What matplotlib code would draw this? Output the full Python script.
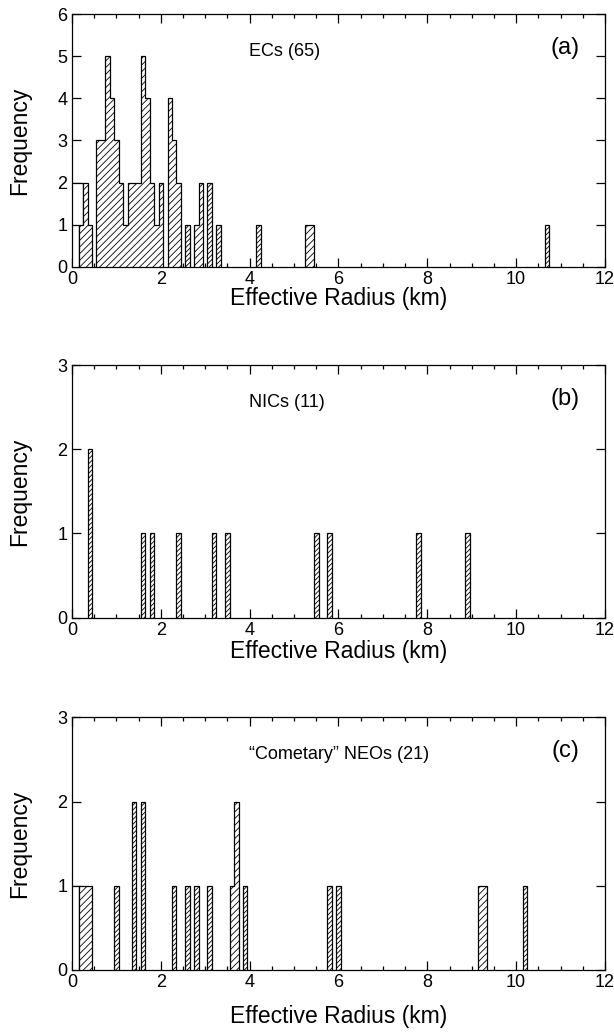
#!/usr/bin/env python3
"""Size distributions of ECs, NICs and "cometary" NEOs, drawn as 0.1 km histograms."""

import matplotlib

matplotlib.use("Agg")

import matplotlib.pyplot as plt
import numpy as np

plt.rcParams["font.family"] = ["Liberation Sans", "DejaVu Sans"]
plt.rcParams["hatch.linewidth"] = 0.6

BIN = 0.1

# bin centres (km) and counts
ec_radius = [0.2, 0.3, 0.4, 0.6, 0.7, 0.8, 0.9, 1.0, 1.1, 1.2, 1.3, 1.4, 1.5,
             1.6, 1.7, 1.8, 1.9, 2.0, 2.2, 2.3, 2.4, 2.6, 2.8, 2.9, 3.1, 3.3,
             4.2, 5.3, 5.4, 10.7]
ec_count = [1, 2, 1, 3, 3, 5, 4, 3, 2, 1, 2, 2, 2,
            5, 4, 2, 1, 2, 4, 3, 2, 1, 1, 2, 2, 1,
            1, 1, 1, 1]

nic_radius = [0.4, 1.6, 1.8, 2.4, 3.2, 3.5, 5.5, 5.8, 7.8, 8.9]
nic_count = [2, 1, 1, 1, 1, 1, 1, 1, 1, 1]

neo_radius = [0.2, 0.3, 0.4, 1.0, 1.4, 1.6, 2.3, 2.6, 2.8, 3.1, 3.6, 3.7,
              3.9, 5.8, 6.0, 9.2, 9.3, 10.2]
neo_count = [1, 1, 1, 1, 2, 2, 1, 1, 1, 1, 1, 2,
             1, 1, 1, 1, 1, 1]

# empty outline boxes near the origin (not part of the counts)
ec_open_radius = [0.0, 0.1, 0.2]
ec_open_count = [2, 2, 2]
ec_open_low_radius = [0.0, 0.1]
ec_open_low_count = [1, 1]
neo_open_radius = [0.0, 0.1]
neo_open_count = [1, 1]

panels = [
    ("ECs (65)", "(a)", ec_radius, ec_count, 6,
     [(ec_open_radius, ec_open_count), (ec_open_low_radius, ec_open_low_count)]),
    ("NICs (11)", "(b)", nic_radius, nic_count, 3, []),
    ("\u201cCometary\u201d NEOs (21)", "(c)", neo_radius, neo_count, 3,
     [(neo_open_radius, neo_open_count)]),
]


def runs(centres, counts):
    """Group occupied 0.1 km bins into contiguous runs."""
    idx = np.rint(np.asarray(centres) / BIN).astype(int)
    order = np.argsort(idx)
    idx = idx[order]
    vals = np.asarray(counts)[order]
    groups = []
    start = 0
    for k in range(1, len(idx) + 1):
        if k == len(idx) or idx[k] != idx[k - 1] + 1:
            groups.append((idx[start:k], vals[start:k]))
            start = k
    return groups


def draw_hist(ax, centres, counts):
    for idx, vals in runs(centres, counts):
        edges = np.append(idx - 0.5, idx[-1] + 0.5) * BIN
        hatch = "///////" if len(idx) == 1 else "/////"
        ax.stairs(vals, edges, baseline=0, fill=True, facecolor="white",
                  edgecolor="black", hatch=hatch, linewidth=0.9, zorder=3)


def draw_open(ax, centres, counts):
    idx = np.rint(np.asarray(centres) / BIN).astype(int)
    edges = np.append(idx - 0.5, idx[-1] + 0.5) * BIN
    ax.stairs(counts, edges, baseline=0, fill=True, facecolor="white",
              edgecolor="black", linewidth=0.9, zorder=2)


fig = plt.figure(figsize=(6.14, 10.34), dpi=100)
bottoms = [0.742, 0.4026, 0.0619]
xlabel_pads = [-1, 1, 10]

for (label, tag, radius, count, ymax, opens), bottom, lpad in zip(
        panels, bottoms, xlabel_pads):
    ax = fig.add_axes([0.1173, bottom, 0.868, 0.2444])
    for o_r, o_c in opens:
        draw_open(ax, o_r, o_c)
    draw_hist(ax, radius, count)

    ax.set_xlim(0, 12)
    ax.set_ylim(0, ymax)
    ax.set_xticks(np.arange(0, 13, 2))
    ax.set_xticks(np.arange(0, 12.01, 0.5), minor=True)
    ax.set_yticks(np.arange(0, ymax + 1, 1))
    ax.tick_params(which="both", direction="in", top=True, right=True,
                   labelsize=13, width=0.9)
    ax.tick_params(which="major", length=6.5)
    ax.tick_params(which="minor", length=3)
    ax.tick_params(axis="x", pad=3)
    for spine in ax.spines.values():
        spine.set_linewidth(0.9)
        spine.set_zorder(4)

    ax.set_xlabel("Effective Radius (km)", fontsize=16.5, labelpad=lpad)
    ax.set_ylabel("Frequency", fontsize=16.5)
    ax.yaxis.set_label_coords(-0.077, 0.5)

    ax.text(0.332, 0.852, label, transform=ax.transAxes, fontsize=13,
            ha="left", va="center")
    ax.text(0.952, 0.865, tag, transform=ax.transAxes, fontsize=17,
            ha="right", va="center")

fig.savefig("out.png", dpi=100)
